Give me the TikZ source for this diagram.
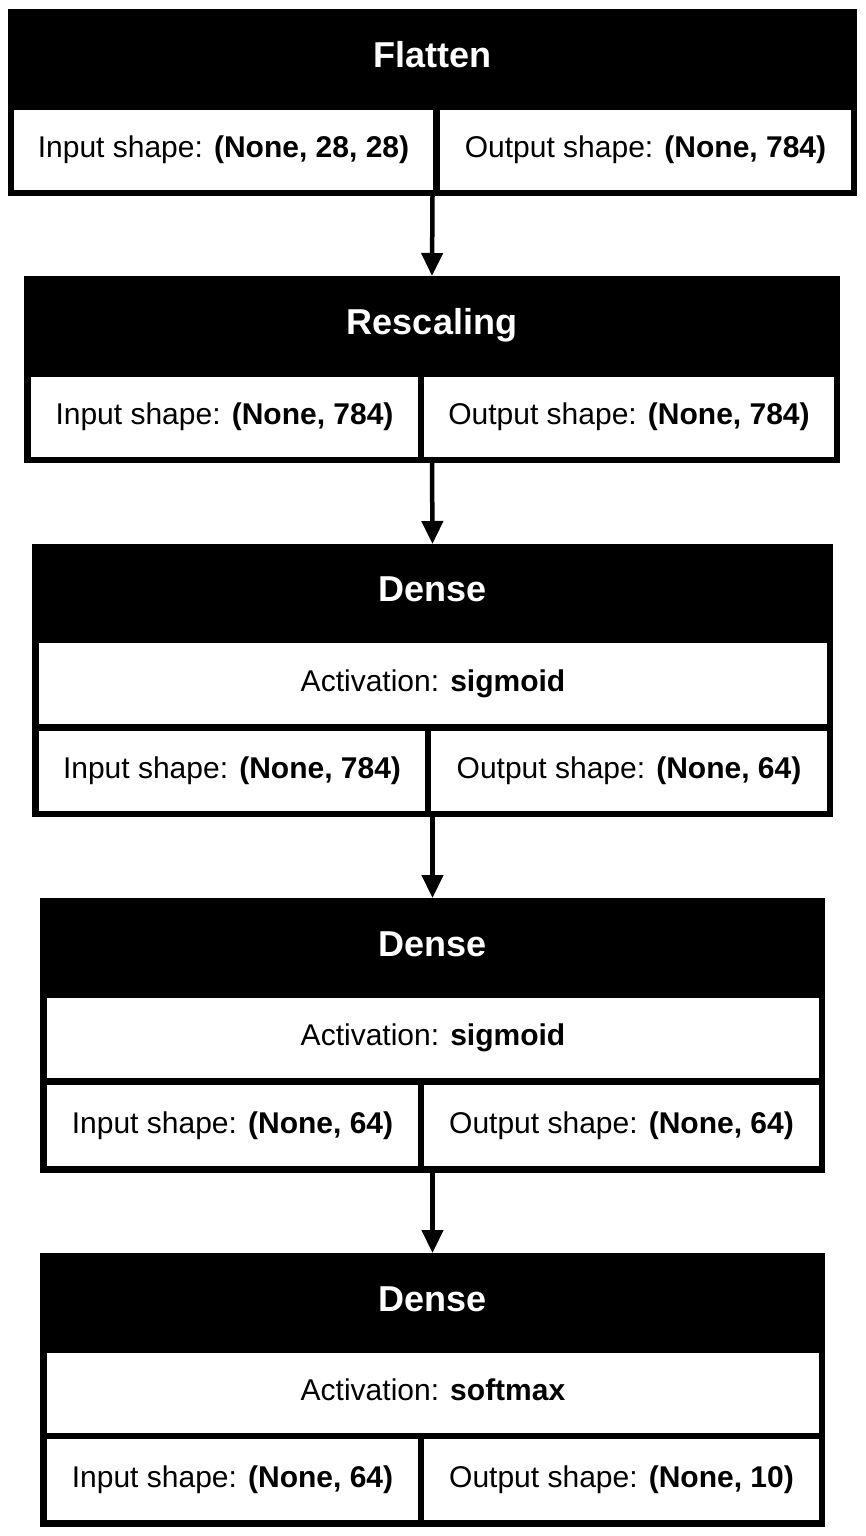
\documentclass[tikz,border=0pt]{standalone}
\usepackage{fontspec}
\setmainfont{Liberation Sans}
\usepackage{tikz}
\usetikzlibrary{arrows.meta, positioning}

\tikzset{
    layer/.style={fill=black, inner sep=0, outer sep=0},
    cell/.style={fill=white, inner sep=0, outer sep=0, text height=22pt, text depth=7pt,
        font=\fontsize{30}{36}\selectfont},
    head/.style={text=white, inner sep=0, font=\fontsize{36}{42}\selectfont\bfseries},
    flow/.style={line width=4.5pt, -{Triangle[length=23pt, width=21pt]}}
}

\begin{document}
\begin{tikzpicture}[x=1pt, y=-1pt]
    \useasboundingbox (0,0) rectangle (865,1536);

    % Flatten
    \node[layer, minimum width=849, minimum height=187] (flatten) at (432.5,102.5) {};
    \node[head, anchor=base] (flattenHead) at (432.5,68) {Flatten};
    \node[cell, minimum width=419, minimum height=80] (flattenIn) at (223.5,150) {Input shape: \textbf{(None, 28, 28)}};
    \node[cell, minimum width=411, minimum height=80] (flattenOut) at (645.5,150) {Output shape: \textbf{(None, 784)}};

    % Rescaling
    \node[layer, minimum width=816, minimum height=187] (rescaling) at (432,369.5) {};
    \node[head, anchor=base] (rescalingHead) at (432,334) {Rescaling};
    \node[cell, minimum width=387, minimum height=80] (rescalingIn) at (224.5,417) {Input shape: \textbf{(None, 784)}};
    \node[cell, minimum width=410, minimum height=80] (rescalingOut) at (629,417) {Output shape: \textbf{(None, 784)}};

    % Dense 1
    \node[layer, minimum width=801, minimum height=273] (denseA) at (432.5,680.5) {};
    \node[head, anchor=base] (denseAHead) at (432.5,601) {Dense};
    \node[cell, minimum width=788, minimum height=81] (denseAAct) at (433,683.5) {Activation: \textbf{sigmoid}};
    \node[cell, minimum width=386, minimum height=80] (denseAIn) at (232,771) {Input shape: \textbf{(None, 784)}};
    \node[cell, minimum width=396, minimum height=80] (denseAOut) at (629,771) {Output shape: \textbf{(None, 64)}};

    % Dense 2
    \node[layer, minimum width=785, minimum height=275] (denseB) at (432.5,1035.5) {};
    \node[head, anchor=base] (denseBHead) at (432.5,956) {Dense};
    \node[cell, minimum width=772, minimum height=80] (denseBAct) at (433,1038) {Activation: \textbf{sigmoid}};
    \node[cell, minimum width=371, minimum height=81] (denseBIn) at (232.5,1125.5) {Input shape: \textbf{(None, 64)}};
    \node[cell, minimum width=395, minimum height=81] (denseBOut) at (621.5,1125.5) {Output shape: \textbf{(None, 64)}};

    % Dense 3
    \node[layer, minimum width=785, minimum height=274] (denseC) at (432.5,1390) {};
    \node[head, anchor=base] (denseCHead) at (432.5,1311) {Dense};
    \node[cell, minimum width=772, minimum height=80] (denseCAct) at (433,1393) {Activation: \textbf{softmax}};
    \node[cell, minimum width=371, minimum height=81] (denseCIn) at (232.5,1479.5) {Input shape: \textbf{(None, 64)}};
    \node[cell, minimum width=395, minimum height=81] (denseCOut) at (621.5,1479.5) {Output shape: \textbf{(None, 10)}};

    \draw[flow] (flatten.south) -- (rescaling.north);
    \draw[flow] (rescaling.south) -- (denseA.north);
    \draw[flow] (denseA.south) -- (denseB.north);
    \draw[flow] (denseB.south) -- (denseC.north);
\end{tikzpicture}
\end{document}
